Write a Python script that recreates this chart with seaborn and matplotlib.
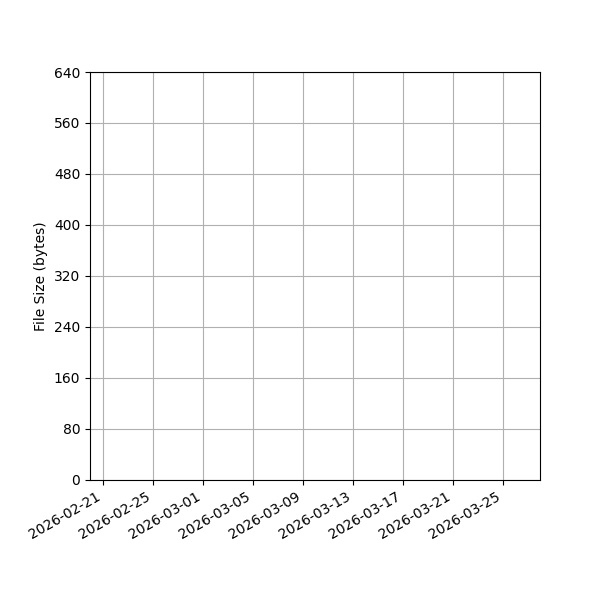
import pandas as pd
import matplotlib
matplotlib.use('Agg')
import matplotlib.pyplot as plt
import matplotlib.dates as mdates
from matplotlib.ticker import MultipleLocator
import seaborn as sns

# No points were recorded in the period shown
dates = pd.to_datetime(pd.Series([], dtype='object'))
sizes = pd.Series([], dtype='float64')

x_start = pd.Timestamp('2026-02-20')
x_end = pd.Timestamp('2026-03-28')
y_max = 640
y_step = 80

fig, ax = plt.subplots(figsize=(6, 6), dpi=100)
sns.lineplot(x=dates, y=sizes, ax=ax)

ax.xaxis_date()
ax.set_xlim(x_start, x_end)
ax.set_ylim(0, y_max)
ax.yaxis.set_major_locator(MultipleLocator(y_step))
ax.xaxis.set_major_locator(mdates.AutoDateLocator())
ax.xaxis.set_major_formatter(mdates.DateFormatter('%Y-%m-%d'))
ax.set_xlabel('')
ax.set_ylabel('File Size (bytes)')
ax.grid(True)

fig.autofmt_xdate()
fig.subplots_adjust(left=0.15, right=0.9, top=0.88, bottom=0.2)
fig.savefig('out.png', dpi=100)
